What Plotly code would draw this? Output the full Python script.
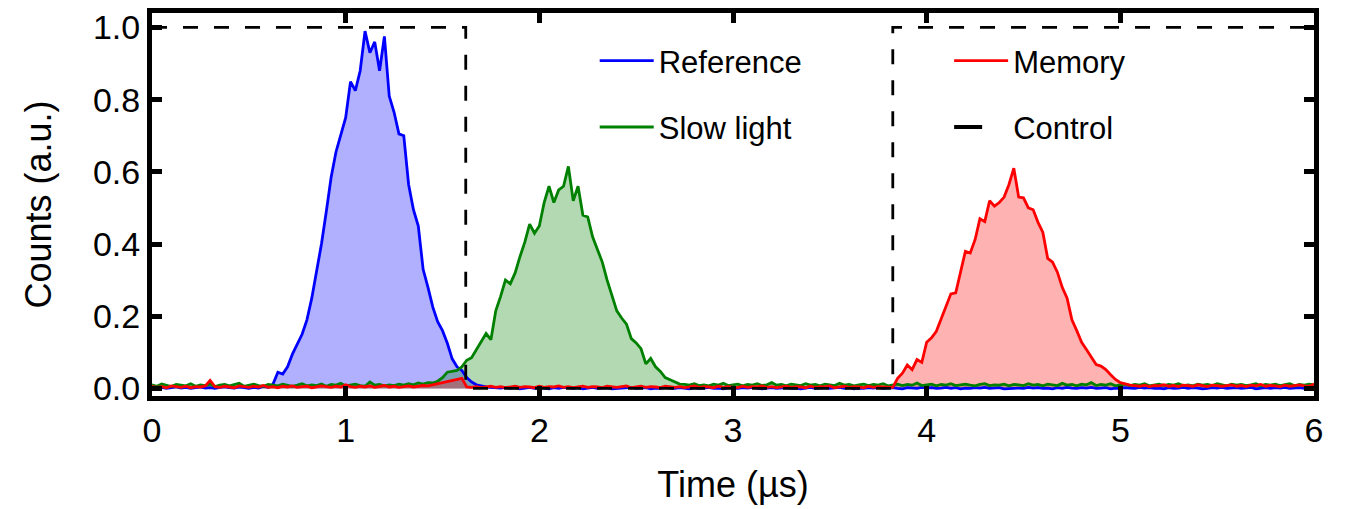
import plotly.graph_objects as go

# ---- time grid (µs) ----
T = [
    0.0, 0.025, 0.05, 0.075, 0.1, 0.125, 0.15, 0.175, 0.2, 0.225,
    0.25, 0.275, 0.3, 0.325, 0.35, 0.375, 0.4, 0.425, 0.45, 0.475,
    0.5, 0.525, 0.55, 0.575, 0.6, 0.625, 0.65, 0.675, 0.7, 0.725,
    0.75, 0.775, 0.8, 0.825, 0.85, 0.875, 0.9, 0.925, 0.95, 0.975,
    1.0, 1.025, 1.05, 1.075, 1.1, 1.125, 1.15, 1.175, 1.2, 1.225,
    1.25, 1.275, 1.3, 1.325, 1.35, 1.375, 1.4, 1.425, 1.45, 1.475,
    1.5, 1.525, 1.55, 1.575, 1.6, 1.625, 1.65, 1.675, 1.7, 1.725,
    1.75, 1.775, 1.8, 1.825, 1.85, 1.875, 1.9, 1.925, 1.95, 1.975,
    2.0, 2.025, 2.05, 2.075, 2.1, 2.125, 2.15, 2.175, 2.2, 2.225,
    2.25, 2.275, 2.3, 2.325, 2.35, 2.375, 2.4, 2.425, 2.45, 2.475,
    2.5, 2.525, 2.55, 2.575, 2.6, 2.625, 2.65, 2.675, 2.7, 2.725,
    2.75, 2.775, 2.8, 2.825, 2.85, 2.875, 2.9, 2.925, 2.95, 2.975,
    3.0, 3.025, 3.05, 3.075, 3.1, 3.125, 3.15, 3.175, 3.2, 3.225,
    3.25, 3.275, 3.3, 3.325, 3.35, 3.375, 3.4, 3.425, 3.45, 3.475,
    3.5, 3.525, 3.55, 3.575, 3.6, 3.625, 3.65, 3.675, 3.7, 3.725,
    3.75, 3.775, 3.8, 3.825, 3.85, 3.875, 3.9, 3.925, 3.95, 3.975,
    4.0, 4.025, 4.05, 4.075, 4.1, 4.125, 4.15, 4.175, 4.2, 4.225,
    4.25, 4.275, 4.3, 4.325, 4.35, 4.375, 4.4, 4.425, 4.45, 4.475,
    4.5, 4.525, 4.55, 4.575, 4.6, 4.625, 4.65, 4.675, 4.7, 4.725,
    4.75, 4.775, 4.8, 4.825, 4.85, 4.875, 4.9, 4.925, 4.95, 4.975,
    5.0, 5.025, 5.05, 5.075, 5.1, 5.125, 5.15, 5.175, 5.2, 5.225,
    5.25, 5.275, 5.3, 5.325, 5.35, 5.375, 5.4, 5.425, 5.45, 5.475,
    5.5, 5.525, 5.55, 5.575, 5.6, 5.625, 5.65, 5.675, 5.7, 5.725,
    5.75, 5.775, 5.8, 5.825, 5.85, 5.875, 5.9, 5.925, 5.95, 5.975,
    6.0,
]

# ---- Reference (blue) ----
REF_BASE_A = [
    0.004, 0.001, 0.003, 0.000, 0.002, 0.005, 0.001, 0.003, 0.000, 0.002,
    0.004, 0.001, 0.002, 0.000, 0.003, 0.005, 0.002, 0.001, 0.004, 0.002,
    0.000, 0.003, 0.001, 0.006, 0.003,
]
REF_PEAK = [
    0.012, 0.045, 0.040, 0.060, 0.095, 0.125, 0.150, 0.190, 0.250, 0.325,
    0.400, 0.490, 0.585, 0.655, 0.705, 0.750, 0.850, 0.825, 0.880, 0.990,
    0.930, 0.960, 0.880, 0.975, 0.810, 0.765, 0.705, 0.700, 0.565, 0.495,
    0.450, 0.330, 0.280, 0.225, 0.185, 0.160, 0.125, 0.082, 0.060, 0.050,
    0.030, 0.018, 0.010, 0.006, 0.004, 0.003,
]
REF_BASE_B = [
    0.002, 0.001, 0.003, 0.000, 0.002, -0.001, 0.001, 0.003, 0.000, 0.002,
    0.001, -0.001, 0.002, 0.000, 0.003, 0.001, 0.000, 0.002, -0.001, 0.001,
    0.003, 0.000, 0.001, 0.002, -0.001, 0.000, 0.002, 0.001, 0.003, 0.000,
    0.001, 0.002, -0.001, 0.001, 0.000, 0.003, 0.001, 0.000, 0.002, 0.001,
    -0.001, 0.002, 0.000, 0.001, 0.003, 0.000, 0.001, -0.001, 0.002, 0.001,
    0.000, 0.002, 0.001, 0.003, 0.000, -0.001, 0.001, 0.002, 0.000, 0.001,
    0.002, 0.000, 0.001, -0.001, 0.002, 0.003, 0.000, 0.001, 0.002, 0.000,
    0.001, 0.003, 0.000, 0.002, -0.001, 0.001, 0.000, 0.002, 0.001, 0.003,
    0.000, 0.001, 0.002, 0.000, -0.001, 0.002, 0.001, 0.000, 0.003, 0.001,
    0.002, 0.000, 0.001, 0.003, 0.000, 0.002, -0.001, 0.001, 0.000, 0.002,
    0.001, 0.003, 0.000, 0.001, 0.002, -0.001, 0.000, 0.002, 0.001, 0.000,
    0.003, 0.001, 0.002, 0.000, 0.001, -0.001, 0.002, 0.000, 0.003, 0.001,
    0.000, 0.002, 0.001, 0.003, 0.000, 0.001, 0.002, -0.001, 0.001, 0.000,
    0.002, 0.001, 0.000, 0.003, 0.001, 0.002, 0.000, 0.001, -0.001, 0.002,
    0.000, 0.001, 0.003, 0.000, 0.002, 0.001, -0.001, 0.000, 0.002, 0.001,
    0.003, 0.000, 0.001, 0.002, 0.000, 0.001, 0.003, -0.001, 0.001, 0.002,
    0.000, 0.002, 0.001, 0.003, 0.000, 0.001, 0.002, 0.000, 0.001, 0.004,
]

# ---- Slow light (green) ----
SLOW_BASE_A = [
    0.010, 0.006, 0.012, 0.008, 0.005, 0.011, 0.009, 0.007, 0.013, 0.006,
    0.010, 0.008, 0.012, 0.005, 0.009, 0.011, 0.007, 0.010, 0.014, 0.006,
    0.009, 0.012, 0.008, 0.006, 0.011, 0.009, 0.007, 0.012, 0.010, 0.006,
    0.009, 0.013, 0.007, 0.010, 0.008, 0.012, 0.006, 0.011, 0.009, 0.014,
    0.007, 0.010, 0.012, 0.008, 0.006, 0.018, 0.009, 0.011, 0.007, 0.010,
    0.008, 0.012, 0.009, 0.013, 0.010, 0.015, 0.012, 0.016,
]
SLOW_PEAK = [
    0.015, 0.020, 0.030, 0.045, 0.048, 0.050, 0.060, 0.078, 0.085, 0.108,
    0.130, 0.152, 0.135, 0.215, 0.255, 0.300, 0.290, 0.320, 0.365, 0.405,
    0.455, 0.430, 0.450, 0.515, 0.560, 0.515, 0.550, 0.560, 0.615, 0.520,
    0.560, 0.480, 0.475, 0.420, 0.385, 0.350, 0.300, 0.260, 0.215, 0.195,
    0.178, 0.138, 0.126, 0.110, 0.068, 0.083, 0.060, 0.047, 0.030, 0.024,
    0.018, 0.012,
]
SLOW_BASE_B = [
    0.011, 0.009, 0.013, 0.008, 0.010, 0.007, 0.012, 0.009, 0.014, 0.008,
    0.010, 0.012, 0.007, 0.011, 0.009, 0.013, 0.008, 0.010, 0.016, 0.009,
    0.011, 0.007, 0.012, 0.010, 0.008, 0.013, 0.009, 0.011, 0.007, 0.012,
    0.010, 0.008, 0.014, 0.009, 0.011, 0.007, 0.010, 0.012, 0.008, 0.011,
    0.009, 0.013, 0.007, 0.010, 0.012, 0.008, 0.011, 0.009, 0.015, 0.008,
    0.010, 0.012, 0.007, 0.011, 0.009, 0.013, 0.008, 0.010, 0.012, 0.009,
    0.007, 0.011, 0.013, 0.008, 0.010, 0.009, 0.012, 0.007, 0.011, 0.010,
    0.008, 0.013, 0.009, 0.011, 0.007, 0.012, 0.010, 0.008, 0.014, 0.009,
    0.011, 0.007, 0.012, 0.010, 0.016, 0.008, 0.011, 0.009, 0.013, 0.007,
    0.010, 0.012, 0.008, 0.011, 0.009, 0.013, 0.007, 0.010, 0.012, 0.008,
    0.011, 0.009, 0.013, 0.008, 0.010, 0.007, 0.012, 0.009, 0.011, 0.008,
    0.013, 0.010, 0.007, 0.012, 0.009, 0.011, 0.008, 0.010, 0.013, 0.007,
    0.011, 0.009, 0.012, 0.008, 0.010, 0.013, 0.007, 0.011, 0.009, 0.012,
    0.010,
]

# ---- Memory (red) ----
MEM_BASE_A = [
    0.006, 0.003, 0.005, 0.002, 0.007, 0.004, 0.003, 0.006, 0.002, 0.005,
    0.004, 0.007, 0.022, 0.005, 0.003, 0.006, 0.004, 0.002, 0.007, 0.005,
    0.003, 0.006, 0.004, 0.008, 0.003, 0.005, 0.002, 0.006, 0.004, 0.007,
    0.003, 0.005, 0.006, 0.002, 0.004, 0.007, 0.005, 0.003, 0.006, 0.004,
    0.010, 0.005, 0.003, 0.006, 0.004, 0.007, 0.003, 0.005, 0.008, 0.004,
    0.006, 0.003, 0.005, 0.007, 0.004, 0.006, 0.008, 0.007,
]
MEM_LEAK = [0.010, 0.012, 0.015, 0.018, 0.022, 0.025, 0.028]
MEM_BASE_B = [
    0.004, 0.003, 0.005, 0.002, 0.004, 0.006, 0.003, 0.005, 0.002, 0.004,
    0.006, 0.003, 0.005, 0.004, 0.002, 0.006, 0.003, 0.005, 0.004, 0.007,
    0.003, 0.005, 0.002, 0.004, 0.006, 0.003, 0.005, 0.004, 0.002, 0.006,
    0.004, 0.003, 0.005, 0.007, 0.002, 0.004, 0.006, 0.003, 0.005, 0.004,
    0.002, 0.006, 0.004, 0.003, 0.005, 0.002, 0.004, 0.007, 0.003, 0.005,
    0.004, 0.002, 0.006, 0.003, 0.005, 0.004, 0.002, 0.006, 0.003, 0.005,
    0.004, 0.007, 0.003, 0.005, 0.002, 0.004, 0.006, 0.003, 0.005, 0.004,
    0.002, 0.006, 0.003, 0.005, 0.004, 0.007, 0.002, 0.004, 0.006, 0.003,
    0.005, 0.004, 0.002, 0.006, 0.003, 0.005, 0.004, 0.003,
]
MEM_PEAK = [
    0.003, 0.028, 0.042, 0.065, 0.052, 0.080, 0.072, 0.128, 0.140, 0.158,
    0.192, 0.228, 0.262, 0.265, 0.325, 0.380, 0.375, 0.412, 0.470, 0.462,
    0.520, 0.505, 0.515, 0.530, 0.565, 0.610, 0.530, 0.528, 0.500, 0.495,
    0.460, 0.432, 0.360, 0.350, 0.322, 0.280, 0.250, 0.190, 0.160, 0.128,
    0.108, 0.088, 0.066, 0.062, 0.052, 0.038, 0.025, 0.016, 0.012, 0.009,
]
MEM_BASE_C = [
    0.008, 0.006, 0.009, 0.005, 0.008, 0.007, 0.010, 0.006, 0.008, 0.005,
    0.009, 0.007, 0.006, 0.010, 0.008, 0.005, 0.009, 0.007, 0.006, 0.008,
    0.010, 0.006, 0.008, 0.005, 0.009, 0.007, 0.011, 0.006, 0.008, 0.007,
    0.005, 0.009, 0.006, 0.008, 0.010, 0.007, 0.006, 0.012,
]

# ---- Control field (on / off / on) ----
CTRL_T = [0.0, 1.62, 1.62, 3.825, 3.825, 6.0]
CTRL_V = [1.0, 1.0, 0.0, 0.0, 1.0, 1.0]

X_TICKS = [0, 1, 2, 3, 4, 5, 6]
Y_TICKS = [0.0, 0.2, 0.4, 0.6, 0.8, 1.0]
Y_TICK_TEXT = ["0.0", "0.2", "0.4", "0.6", "0.8", "1.0"]

REF = REF_BASE_A + REF_PEAK + REF_BASE_B
SLOW = SLOW_BASE_A + SLOW_PEAK + SLOW_BASE_B
MEM = MEM_BASE_A + MEM_LEAK + MEM_BASE_B + MEM_PEAK + MEM_BASE_C

SERIES = [
    ("Reference", REF, "#0000ff", "rgba(0,0,255,0.31)", "legend"),
    ("Slow light", SLOW, "#008000", "rgba(0,128,0,0.30)", "legend"),
    ("Memory", MEM, "#ff0000", "rgba(255,0,0,0.30)", "legend2"),
]

FONT = "Arial, 'Liberation Sans', Helvetica, sans-serif"

fig = go.Figure()
# shaded areas first
for name, ys, col, fcol, leg in SERIES:
    fig.add_trace(go.Scatter(
        x=T, y=ys, mode="lines", line=dict(width=0, color=col),
        fill="tozeroy", fillcolor=fcol, showlegend=False, hoverinfo="skip",
    ))
# traces on top
for name, ys, col, fcol, leg in SERIES:
    fig.add_trace(go.Scatter(
        x=T, y=ys, name=name, mode="lines",
        line=dict(color=col, width=2.8),
        legend=leg, legendgroup=name,
    ))
fig.add_trace(go.Scatter(
    x=CTRL_T, y=CTRL_V, name="Control", mode="lines",
    line=dict(color="black", width=2.8, dash="15px,16px"),
    showlegend=False,
))
# legend swatch for the control (a single short dash)
fig.add_trace(go.Scatter(
    x=[None], y=[None], name="Control", mode="lines",
    line=dict(color="black", width=4, dash="28px,60px"),
    legend="legend2", legendgroup="Control",
))

axis_common = dict(
    showline=True, linewidth=5, linecolor="black", mirror="ticks",
    ticks="inside", ticklen=10, tickwidth=4.5, tickcolor="black",
    showgrid=False, zeroline=False, automargin=False,
    tickfont=dict(family=FONT, size=34, color="black"),
)

leg_common = dict(
    font=dict(family=FONT, size=31, color="black"),
    bgcolor="rgba(0,0,0,0)", borderwidth=0,
    traceorder="grouped", tracegroupgap=23,
    xanchor="left", yanchor="top", itemwidth=54,
)

fig.update_layout(
    width=1348, height=509,
    margin=dict(l=152, r=34, t=12.5, b=112.5),
    paper_bgcolor="white", plot_bgcolor="white",
    font=dict(family=FONT, size=31, color="black"),
    xaxis=dict(
        range=[0, 6], tickvals=X_TICKS,
        title=dict(text="Time (µs)", font=dict(family=FONT, size=36), standoff=26),
        **axis_common,
    ),
    yaxis=dict(
        range=[-0.021, 1.040], tickvals=Y_TICKS, ticktext=Y_TICK_TEXT,
        title=dict(text="Counts (a.u.)", font=dict(family=FONT, size=36), standoff=32),
        **axis_common,
    ),
    legend=dict(x=0.381, y=0.945, **leg_common),
    legend2=dict(x=0.686, y=0.945, **leg_common),
    showlegend=True,
)

fig.write_html("out.html")
